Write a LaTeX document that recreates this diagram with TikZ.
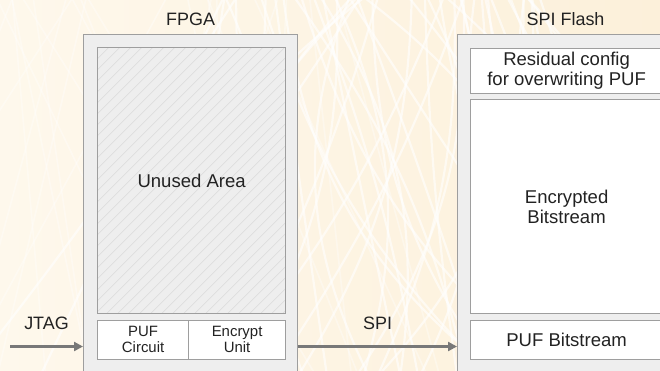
\documentclass[tikz,border=0pt]{standalone}
\usepackage{fontspec}
\setmainfont{Liberation Sans}
\usetikzlibrary{positioning}
\usetikzlibrary{arrows.meta}
\definecolor{paperlight}{RGB}{254,248,236}
\definecolor{paper}{RGB}{252,240,218}
\definecolor{boxgray}{RGB}{238,238,238}
\definecolor{edgegray}{RGB}{158,158,158}
\definecolor{hatchgray}{RGB}{218,218,218}
\definecolor{arrowgray}{RGB}{120,120,120}
\definecolor{inkgray}{RGB}{34,34,34}
\newcommand{\bigtext}{\fontsize{18.6}{20}\selectfont}
\newcommand{\titletext}{\fontsize{18}{20}\selectfont}
\newcommand{\smalltext}{\fontsize{15}{16.5}\selectfont}
\tikzset{
  chip/.style={draw=edgegray, fill=boxgray, line width=1.2bp, anchor=north west, inner sep=0pt},
  part/.style={draw=edgegray, fill=white, line width=1.2bp, anchor=north west, inner sep=0pt,
    align=center, text=inkgray, font=\bigtext},
  small part/.style={part, font=\smalltext},
  title/.style={text=inkgray, font=\titletext},
  link/.style={draw=arrowgray, line width=2.6bp, -{Triangle[length=9bp,width=9bp]}},
  streak/.style={white, line width=2.2bp, opacity=0.6},
  faint streak/.style={white, line width=1.6bp, opacity=0.35},
  hatchline/.style={hatchgray, line width=0.6bp},
}
\begin{document}
\begin{tikzpicture}[x=1bp, y=-1bp]
	\useasboundingbox (0,0) rectangle (660,370);
	\clip (0,0) rectangle (660,370);
	% paper background with white streaks
	\fill[left color=paperlight, right color=paper] (0,0) rectangle (660,370);
	\pgfmathsetseed{11}
	\foreach \k in {1,...,26}
	{\pgfmathsetmacro{\xa}{-60+420*rnd}
	 \pgfmathsetmacro{\xb}{\xa+300*rand}
	 \draw[faint streak] (\xa,-10) -- (\xb,380);}
	\foreach \k in {1,...,52}
	{\pgfmathsetmacro{\xa}{390+170*rand}
	 \pgfmathsetmacro{\xb}{\xa+280*rand}
	 \pgfmathsetmacro{\bend}{25*rand}
	 \draw[streak] (\xa,-10) to[bend left=\bend] (\xb,380);}

	% FPGA
	\node[chip, minimum width=214bp, minimum height=360bp] (fpga) at (83,34) {};
	\node[title, above=5bp of fpga.north] (fpgatitle) {FPGA};
	\node[part, fill=boxgray, minimum width=188bp, minimum height=266bp,
	  path picture={\foreach \i in {0,11,...,460}
	    \draw[hatchline] ([xshift=\i bp-266bp]path picture bounding box.south west) -- ++(266bp,266bp);}]
	  (unused) at (97,47) {Unused Area};
	\node[small part, minimum width=91bp, minimum height=39bp] (puf) at (97,319.5) {PUF\\Circuit};
	\node[small part, minimum width=97bp, minimum height=39bp] (encrypt) at (188,319.5) {Encrypt\\Unit};

	% SPI flash
	\node[chip, minimum width=216bp, minimum height=360bp] (flash) at (457,34) {};
	\node[title, above=5bp of flash.north] (flashtitle) {SPI Flash};
	\node[part, minimum width=192bp, minimum height=45bp] (residual) at (470,47.5) {Residual config\\for overwriting PUF};
	\node[part, minimum width=192bp, minimum height=214bp] (bitstream) at (470,99) {Encrypted\\Bitstream};
	\node[part, minimum width=192bp, minimum height=39bp] (pufbits) at (470,319.5) {PUF Bitstream};

	% connections
	\coordinate (jtagin) at (10,346.5);
	\draw[link] (jtagin) -- (jtagin -| fpga.west) node[title, midway, above=12bp] (jtag) {JTAG};
	\draw[link] (jtagin -| fpga.east) -- (jtagin -| flash.west) node[title, midway, above=12bp] (spi) {SPI};
\end{tikzpicture}
\end{document}
